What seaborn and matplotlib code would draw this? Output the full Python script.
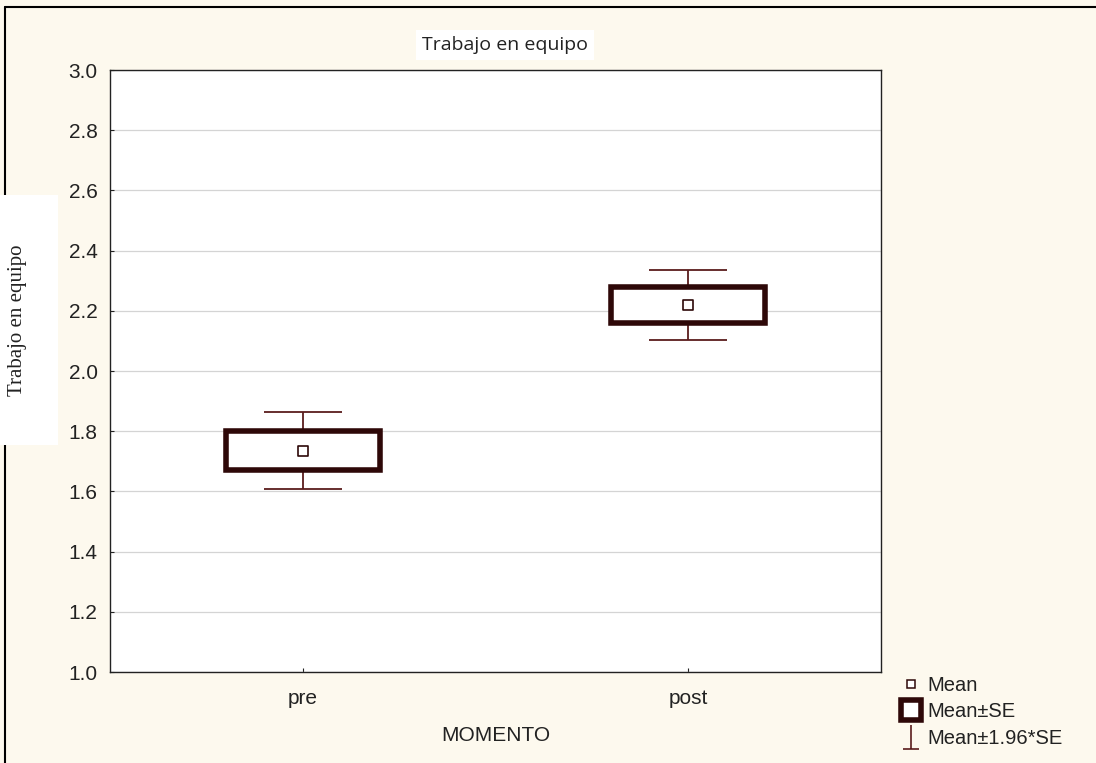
import matplotlib
matplotlib.use("Agg")
import matplotlib.pyplot as plt
from matplotlib.lines import Line2D
from matplotlib.patches import Rectangle
from matplotlib.path import Path
import seaborn as sns
import pandas as pd
import numpy as np

# Data
momentos = ["pre", "post"]
means = [1.735, 2.220]
se = [0.065, 0.059]

df = pd.DataFrame({"MOMENTO": momentos, "mean": means, "se": se})
df["lo_se"] = df["mean"] - df["se"]
df["ci"] = 1.96 * df["se"]

sns.set_theme(style="white")
plt.rcParams["font.family"] = ["Liberation Sans", "DejaVu Sans"]

BG = "#fdf9ee"
DARK = "#2e0808"
WHISK = "#5a1c1c"
TXT = "#222222"

fig = plt.figure(figsize=(10.96, 7.63), dpi=100, facecolor=BG)
ax = fig.add_axes([110 / 1096, 1 - 672 / 763, 771 / 1096, 602 / 763])
ax.set_facecolor("white")

xpos = np.arange(len(momentos))

# Mean ± 1.96*SE whiskers
ax.errorbar(xpos, df["mean"], yerr=df["ci"], fmt="none", ecolor=WHISK,
            elinewidth=1.3, capsize=28, capthick=1.3, zorder=2)
# Mean ± SE boxes
ax.bar(xpos, 2 * df["se"], bottom=df["lo_se"], width=0.4, color="white",
       edgecolor=DARK, linewidth=4, zorder=3)
# Means
sns.scatterplot(x=xpos, y=df["mean"], marker="s", s=55, facecolor="white",
                edgecolor=DARK, linewidth=1.2, ax=ax, zorder=4)

ax.set_xlim(-0.5, 1.5)
ax.set_ylim(1.0, 3.0)
ax.set_xticks(xpos)
ax.set_xticklabels(momentos)
yt = np.arange(1.0, 3.01, 0.2)
ax.set_yticks(yt)
ax.set_yticklabels([f"{v:.1f}" for v in yt])
ax.grid(axis="y", color="#d4d4d4", linewidth=0.9)
ax.set_axisbelow(True)
ax.tick_params(axis="both", labelsize=15, colors=TXT, direction="in",
               length=3, width=0.8, left=True, bottom=True)
ax.tick_params(axis="y", pad=9)
ax.tick_params(axis="x", pad=12)
for sp in ax.spines.values():
    sp.set_color(TXT)
    sp.set_linewidth(1.0)
ax.set_xlabel("MOMENTO", fontsize=15, color=TXT, labelpad=13)
ax.set_ylabel("")

# Title
fig.text(505 / 1096, 1 - 45 / 763, "Trabajo en equipo", ha="center", va="center",
         fontsize=14, family=["Open Sans", "DejaVu Sans"], color=TXT,
         bbox=dict(facecolor="white", edgecolor="none", pad=4))

# Figure frame (left and top)
fig.add_artist(Line2D([5 / 1096, 5 / 1096], [0, 1 - 7 / 763], color="black",
                      linewidth=1.5, transform=fig.transFigure, zorder=1))
fig.add_artist(Line2D([5 / 1096, 1], [1 - 7 / 763, 1 - 7 / 763], color="black",
                      linewidth=1.5, transform=fig.transFigure, zorder=1))

# Y label in a white box
fig.add_artist(Rectangle((0, 1 - 445 / 763), 58 / 1096, 250 / 763,
                         transform=fig.transFigure, facecolor="white",
                         edgecolor="none", zorder=5))
fig.text(18 / 1096, 1 - 320 / 763, "Trabajo en equipo", rotation=90,
         ha="center", va="center", fontsize=15,
         family=["Liberation Serif", "DejaVu Serif"], color=TXT, zorder=6)

# Legend
whisker_marker = Path([(0, 1), (0, -1), (-0.7, -1), (0.7, -1)],
                      [Path.MOVETO, Path.LINETO, Path.MOVETO, Path.LINETO])
handles = [
    Line2D([], [], linestyle="none", marker="s", markersize=6,
           markerfacecolor="white", markeredgecolor=DARK, markeredgewidth=1.1),
    Line2D([], [], linestyle="none", marker="s", markersize=14,
           markerfacecolor="white", markeredgecolor=DARK, markeredgewidth=4),
    Line2D([], [], linestyle="none", marker=whisker_marker, markersize=17,
           markerfacecolor="none", markeredgecolor=WHISK, markeredgewidth=1.2),
]
leg = fig.legend(handles, ["Mean", "Mean±SE", "Mean±1.96*SE"],
                 loc="upper left", bbox_to_anchor=(891 / 1096, 1 - 666 / 763),
                 frameon=False, fontsize=14.5, handlelength=1.0,
                 handletextpad=0.3, labelspacing=0.36, borderpad=0.0)
for t in leg.get_texts():
    t.set_color(TXT)

fig.savefig("out.png", dpi=100, facecolor=BG)
